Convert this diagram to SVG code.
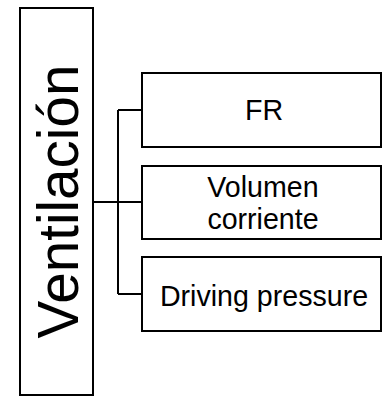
<svg xmlns="http://www.w3.org/2000/svg" width="384" height="397" viewBox="0 0 384 397">
<style>
.box{fill:#fff;stroke:#000;stroke-width:2}
.lbl{font-family:"Liberation Sans",Arial,sans-serif;font-size:28.6px;fill:#000;text-anchor:middle}
.conn{fill:none;stroke:#000;stroke-width:2}
</style>
<rect width="384" height="397" fill="#fff"/>
<g id="connectors">
<path class="conn" d="M93,202 H118 M118,110 V294 M118,110 H142 M118,202 H142 M118,294 H142"/>
</g>
<g id="ventilacion">
<rect class="box" x="20" y="8" width="73" height="387"/>
<text class="lbl" style="font-size:56.6px" transform="translate(78,201.5) rotate(-90)">Ventilación</text>
</g>
<g id="fr">
<rect class="box" x="142" y="73" width="239" height="74"/>
<text class="lbl" x="264" y="120">FR</text>
</g>
<g id="volumen">
<rect class="box" x="142" y="166" width="239" height="73"/>
<text class="lbl" x="263" y="197">Volumen</text>
<text class="lbl" x="263" y="228.5">corriente</text>
</g>
<g id="driving">
<rect class="box" x="142" y="257" width="239" height="74"/>
<text class="lbl" x="264" y="306">Driving pressure</text>
</g>
</svg>
